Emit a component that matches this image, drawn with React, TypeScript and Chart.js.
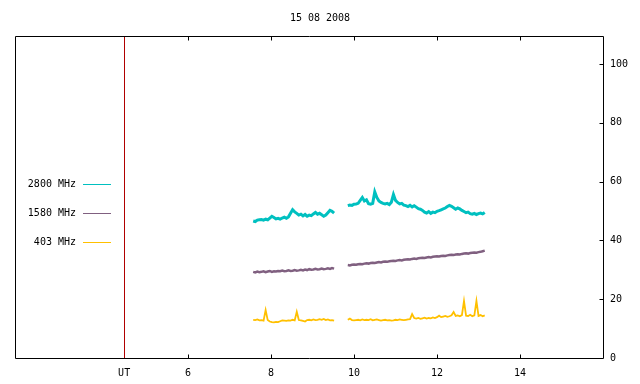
import React, { useEffect, useRef } from "react";
import { Chart, registerables } from "chart.js";
Chart.register(...registerables);

const chartTitle = "15 08 2008";
const seriesLabels = ["2800 MHz", "1580 MHz", "403 MHz"];
const seriesColors = ["#00c0c0", "#806080", "#ffc000"];
const seriesWidths = [3, 2.5, 1.8];
const xTickValues = [6, 8, 10, 12, 14];
const utMarker = 4.46;
const utLabel = "UT";
const yTickValues = [0, 20, 40, 60, 80, 100];
const xMin = 1.83;
const xMax = 16;
const yMin = 0;
const yMax = 109.5;

// sampling (hours UT)
const seg1Start = 7.57;
const seg2Start = 9.85;
const sampleStep = 0.05;
const gapTime = 9.7;

const s2800a = [
  46.6, 46.4, 46.9, 47.0, 47.1, 46.9, 47.2, 47.0, 47.6, 48.2,
  47.8, 47.3, 47.5, 47.2, 47.6, 47.9, 47.5, 48.0, 49.2, 50.4,
  49.7, 49.2, 48.6, 48.9, 48.3, 48.8, 48.2, 48.6, 48.4, 49.0,
  49.5, 48.9, 49.2, 48.7, 48.2, 48.6, 49.4, 50.2, 49.9, 49.3,
];
const s2800b = [
  51.8, 52.0, 51.9, 52.3, 52.4, 52.6, 53.6, 54.6, 53.4, 53.8,
  52.5, 52.3, 52.6, 56.5, 54.6, 53.4, 52.9, 52.6, 52.4, 52.6,
  52.2, 53.0, 55.6, 53.6, 52.9, 52.4, 52.6, 52.0, 51.8, 51.5,
  51.9, 51.4, 51.8, 51.3, 50.8, 50.6, 50.2, 49.6, 49.3, 49.8,
  49.2, 49.6, 49.4, 49.9, 50.1, 50.4, 50.7, 51.0, 51.5, 51.9,
  51.6, 51.1, 50.6, 51.0, 50.7, 50.2, 49.8, 49.4, 49.6, 49.1,
  48.9, 49.2, 48.8, 49.1, 49.3, 49.0, 49.5,
];
const s1580a = [
  29.3, 29.1, 29.4, 29.2, 29.3, 29.5, 29.2, 29.4, 29.6, 29.3,
  29.5, 29.4, 29.6, 29.5, 29.7, 29.5, 29.6, 29.8, 29.6, 29.7,
  29.9, 29.7, 29.8, 30.0, 29.8, 30.1, 29.9, 30.2, 30.0, 30.1,
  30.3, 30.1, 30.2, 30.4, 30.2, 30.3, 30.5, 30.3, 30.6, 30.4,
];
const s1580b = [
  31.6, 31.5, 31.7, 31.8, 31.7, 31.9, 32.0, 31.9, 32.1, 32.2,
  32.1, 32.3, 32.4, 32.3, 32.5, 32.6, 32.5, 32.7, 32.8, 32.7,
  32.9, 33.0, 33.1, 33.0, 33.2, 33.3, 33.2, 33.4, 33.5, 33.6,
  33.5, 33.7, 33.8, 33.7, 33.9, 34.0, 34.1, 34.0, 34.2, 34.3,
  34.2, 34.4, 34.5, 34.6, 34.5, 34.7, 34.8, 34.7, 34.9, 35.0,
  35.1, 35.0, 35.2, 35.3, 35.2, 35.4, 35.5, 35.6, 35.5, 35.7,
  35.8, 35.9, 35.8, 36.0, 36.1, 36.3, 36.5,
];
const s403a = [
  13.0, 12.9, 13.1, 12.8, 12.9, 12.7, 16.3, 12.9, 12.4, 12.2,
  12.1, 12.3, 12.2, 12.5, 12.8, 12.7, 12.6, 12.8, 12.7, 13.0,
  12.8, 15.7, 12.9, 12.8, 12.6, 12.4, 12.9, 13.0, 12.8, 13.1,
  12.9, 13.0, 13.2, 13.0, 13.3, 12.9, 13.1, 12.8, 12.9, 12.7,
];
const s403b = [
  13.0, 13.4, 12.9, 12.8, 12.9, 13.0, 12.8, 13.1, 12.9, 13.0,
  12.9, 13.2, 12.8, 13.0, 13.1, 12.9, 12.7, 12.9, 13.0, 12.8,
  12.9, 12.7, 12.8, 13.0, 12.9, 13.1, 13.0, 12.9, 13.0, 13.1,
  13.2, 14.9, 13.6, 13.4, 13.6, 13.3, 13.5, 13.7, 13.4, 13.6,
  13.5, 13.8, 13.6, 13.9, 14.4, 13.9, 14.1, 14.3, 14.0, 14.2,
  14.5, 15.6, 14.3, 14.5, 14.2, 14.6, 19.4, 14.4, 14.3, 14.7,
  14.2, 14.5, 19.4, 14.3, 14.6, 14.2, 14.5,
];

const FONT = "'DejaVu Sans Mono', monospace";

function buildPoints(a: number[], b: number[]) {
  const pts: { x: number; y: number | null }[] = [];
  a.forEach((v, i) => pts.push({ x: seg1Start + i * sampleStep, y: v }));
  pts.push({ x: gapTime, y: null });
  b.forEach((v, i) => pts.push({ x: seg2Start + i * sampleStep, y: v }));
  return pts;
}

const decorPlugin = {
  id: "decor",
  beforeDatasetsDraw(chart: any) {
    const { ctx, chartArea: ca, scales } = chart;
    const x = Math.round(scales.x.getPixelForValue(utMarker)) + 0.5;
    ctx.save();
    ctx.strokeStyle = "#b00000";
    ctx.lineWidth = 1;
    ctx.beginPath();
    ctx.moveTo(x, ca.top);
    ctx.lineTo(x, ca.bottom);
    ctx.stroke();
    ctx.restore();
  },
  afterDraw(chart: any) {
    const { ctx, chartArea: ca, scales } = chart;
    ctx.save();
    ctx.strokeStyle = "#000";
    ctx.lineWidth = 1;
    const l = Math.round(ca.left) + 0.5;
    const r = Math.round(ca.right) + 0.5;
    const t = Math.round(ca.top) + 0.5;
    const b = Math.round(ca.bottom) + 0.5;
    ctx.beginPath();
    ctx.rect(l, t, r - l, b - t);
    ctx.stroke();
    const tl = 4;
    ctx.beginPath();
    xTickValues.forEach((v) => {
      const px = Math.round(scales.x.getPixelForValue(v)) + 0.5;
      ctx.moveTo(px, b);
      ctx.lineTo(px, b - tl);
      ctx.moveTo(px, t);
      ctx.lineTo(px, t + tl);
    });
    yTickValues.forEach((v) => {
      if (v === 0) return;
      const py = Math.round(scales.y.getPixelForValue(v)) + 0.5;
      ctx.moveTo(r, py);
      ctx.lineTo(r - tl, py);
    });
    ctx.stroke();
    // title
    ctx.fillStyle = "#000";
    ctx.font = "10px " + FONT;
    ctx.textAlign = "center";
    ctx.textBaseline = "middle";
    ctx.fillText(chartTitle, chart.width / 2, 18);
    // legend
    const legendY = [184, 213, 242];
    seriesLabels.forEach((lab, i) => {
      ctx.textAlign = "right";
      ctx.fillStyle = "#000";
      ctx.fillText(lab, 76, legendY[i]);
      ctx.strokeStyle = seriesColors[i];
      ctx.lineWidth = 1;
      ctx.beginPath();
      ctx.moveTo(83, legendY[i] + 0.5);
      ctx.lineTo(111, legendY[i] + 0.5);
      ctx.stroke();
    });
    ctx.restore();
  },
};

export default function App() {
  const ref = useRef<HTMLCanvasElement>(null);
  useEffect(() => {
    if (!ref.current) return;
    const pointSets = [
      buildPoints(s2800a, s2800b),
      buildPoints(s1580a, s1580b),
      buildPoints(s403a, s403b),
    ];
    const chart = new Chart(ref.current, {
      type: "line",
      data: {
        datasets: seriesLabels.map((lab, i) => ({
          label: lab,
          data: pointSets[i] as any,
          borderColor: seriesColors[i],
          backgroundColor: seriesColors[i],
          borderWidth: seriesWidths[i],
          pointRadius: 0,
          tension: 0,
          spanGaps: false,
          fill: false,
        })),
      },
      options: {
        animation: false,
        responsive: false,
        maintainAspectRatio: false,
        layout: { padding: { left: 15, top: 36, right: 0, bottom: 0 } },
        plugins: {
          legend: { display: false },
          title: { display: false },
          tooltip: { enabled: false },
        },
        scales: {
          x: {
            type: "linear",
            min: xMin,
            max: xMax,
            grid: { display: false, drawTicks: false },
            border: { display: false },
            afterBuildTicks: (s: any) => {
              s.ticks = [utMarker, ...xTickValues].map((v) => ({ value: v }));
            },
            afterFit: (s: any) => {
              s.height = 26;
            },
            ticks: {
              autoSkip: false,
              maxRotation: 0,
              padding: 9,
              color: "#000",
              font: { family: FONT, size: 10 },
              callback: (v: any) => (v === utMarker ? utLabel : String(v)),
            },
          },
          y: {
            type: "linear",
            position: "right",
            min: yMin,
            max: yMax,
            grid: { display: false, drawTicks: false },
            border: { display: false },
            afterBuildTicks: (s: any) => {
              s.ticks = yTickValues.map((v) => ({ value: v }));
            },
            afterFit: (s: any) => {
              s.width = 37;
            },
            ticks: {
              padding: 7,
              color: "#000",
              font: { family: FONT, size: 10 },
            },
          },
        },
      },
      plugins: [decorPlugin],
    });
    return () => chart.destroy();
  }, []);
  return (
    <div style={{ position: "fixed", left: 0, top: 0, width: 640, height: 384, background: "#fff" }}>
      <canvas ref={ref} width={640} height={384} style={{ width: 640, height: 384 }} />
    </div>
  );
}
